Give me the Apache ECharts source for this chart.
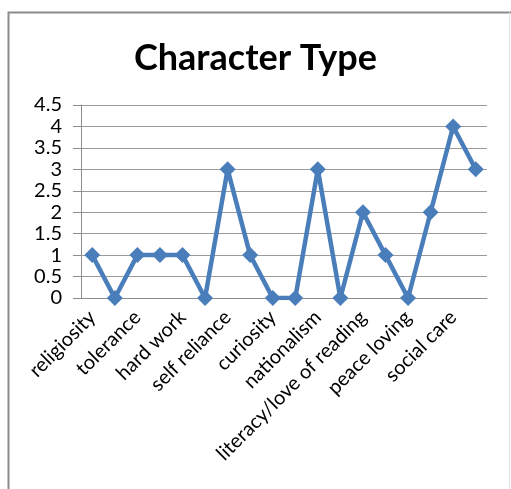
<!DOCTYPE html>
<html>
<head>
<meta charset="utf-8">
<style>
  html, body { margin: 0; padding: 0; background: #fff; }
  #chart { width: 511px; height: 489px; }
</style>
<script src="https://cdn.jsdelivr.net/npm/echarts@6/dist/echarts.min.js"></script>
</head>
<body>
<div id="chart"></div>
<script>
// Character values, in survey order (only every other name is printed on the axis)
const categories = [
  'religiosity', 'honesty', 'tolerance', 'discipline', 'hard work', 'creativity',
  'self reliance', 'democracy', 'curiosity', 'national spirit', 'nationalism',
  'appreciation', 'literacy/love of reading', 'friendliness', 'peace loving',
  'environmental care', 'social care', 'responsibility'
];
const counts = [1, 0, 1, 1, 1, 0, 3, 1, 0, 0, 3, 0, 2, 1, 0, 2, 4, 3];
const yTicks = { min: 0, max: 4.5, step: 0.5 };

const chart = echarts.init(document.getElementById('chart'));
const font = 'Lato, "Open Sans", sans-serif';
chart.setOption({
  animation: false,
  title: {
    text: 'Character Type',
    left: 'center',
    top: 35,
    textStyle: { fontFamily: font, fontSize: 36, fontWeight: 'bold', color: '#000' }
  },
  graphic: [
    { type: 'polyline', shape: { points: [[8.5, 489], [8.5, 12.5], [511, 12.5]] },
      style: { stroke: '#8c8c8c', lineWidth: 2, fill: null } },
    { type: 'line', shape: { x1: 509.5, y1: 12.5, x2: 509.5, y2: 489 },
      style: { stroke: '#e6e6e6', lineWidth: 1 } }
  ],
  grid: { left: 81, right: 24, top: 105, bottom: 191, containLabel: false },
  xAxis: {
    type: 'category',
    data: categories,
    boundaryGap: true,
    axisLine: { lineStyle: { color: '#8c8c8c', width: 1 } },
    axisTick: { interval: 0, length: 5, lineStyle: { color: '#8c8c8c' } },
    axisLabel: {
      interval: 1, rotate: 45, margin: 16,
      fontFamily: font, fontSize: 20, color: '#000'
    }
  },
  yAxis: {
    type: 'value',
    min: yTicks.min, max: yTicks.max, interval: yTicks.step,
    axisLine: { show: true, lineStyle: { color: '#8c8c8c', width: 1 } },
    axisTick: { show: true, length: 8, lineStyle: { color: '#8c8c8c' } },
    axisLabel: { fontFamily: font, fontSize: 20, color: '#000', margin: 19 },
    splitLine: { lineStyle: { color: '#9a9a9a', width: 1 } }
  },
  series: [{
    type: 'line',
    data: counts,
    symbol: 'diamond',
    symbolSize: 16,
    showAllSymbol: true,
    lineStyle: { color: '#4a7ebb', width: 4.5 },
    itemStyle: { color: '#4a7ebb' }
  }]
});
</script>
</body>
</html>
